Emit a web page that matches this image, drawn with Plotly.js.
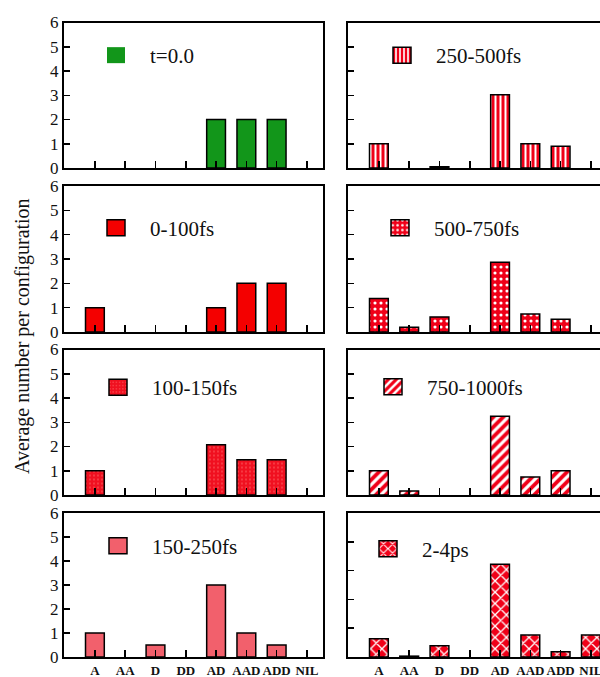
<!DOCTYPE html>
<html><head><meta charset="utf-8">
<script src="https://cdn.plot.ly/plotly-3.0.1.min.js"></script>
<style>html,body{margin:0;padding:0;background:#fff}</style>
</head><body><div id="chart" style="width:600px;height:677px"></div>
<script>
// ---- data ----
const categories = ['A','AA','D','DD','AD','AAD','ADD','NIL'];
const t0        = [0, 0, 0, 0, 2, 2, 2, 0];
const fs0_100   = [1, 0, 0, 0, 1, 2, 2, 0];
const fs100_150 = [1, 0, 0, 0, 2.07, 1.45, 1.45, 0];
const fs150_250 = [1, 0, 0.5, 0, 3, 1, 0.5, 0];
const fs250_500 = [1, 0, 0.05, 0, 3.02, 1.0, 0.9, 0];
const fs500_750 = [1.38, 0.2, 0.62, 0, 2.87, 0.74, 0.52, 0];
const fs750_1000= [1.0, 0.16, 0, 0, 3.25, 0.74, 1.0, 0];
const ps2_4     = [0.63, 0.03, 0.39, 0, 3.22, 0.76, 0.18, 0.76];
const seriesNames = ['t=0.0','250-500fs','0-100fs','500-750fs','100-150fs','750-1000fs','150-250fs','2-4ps'];
const seriesValues = [t0, fs250_500, fs0_100, fs500_750, fs100_150, fs750_1000, fs150_250, ps2_4];
const yMax = [6, 6, 6, 6, 6, 6, 6, 5];
const yTitle = 'Average number per configuration';

// ---- styles ----
const RED = '#f00018';
const styles = [
  {color:'#12961a'},
  {color:RED, pattern:{shape:'|', bgcolor:RED, fgcolor:'#ffffff', size:5, solidity:0.4}},
  {color:'#f40000'},
  {color:RED, pattern:{shape:'.', bgcolor:RED, fgcolor:'#ffffff', size:6, solidity:0.22}},
  {color:'#f01020', pattern:{shape:'.', bgcolor:'#f01020', fgcolor:'#ff7070', size:4, solidity:0.12}},
  {color:RED, pattern:{shape:'/', bgcolor:RED, fgcolor:'#ffffff', size:7, solidity:0.45}},
  {color:'#f2606c'},
  {color:RED, pattern:{shape:'x', bgcolor:RED, fgcolor:'#ffffff', size:8, solidity:0.3}}
];
const H = 677, W = 600;
const rowsPx = [[22.5,168],[186,332],[349.5,495],[513,657]];
const colsPx = [[64,323],[348,600]];
const xRanges = [[-1.02, 7.53], [-1.02, 7.30]];
const legendPx = [[82,55.5],[368,55.5],[82,228],[366,228],[84,387.5],[359,387],[84,546],[354,549]];

const serif = '"Liberation Serif", "Times New Roman", serif';
const data = [];
const layout = {
  width: W, height: H,
  margin: {l:0, r:0, t:0, b:0},
  paper_bgcolor: '#fff', plot_bgcolor: '#fff',
  font: {family: serif, color: '#000'},
  annotations: [{
    text: yTitle, xref:'paper', yref:'paper', x: 22/W, y: 1-336/H,
    textangle: -90, showarrow:false, xanchor:'center', yanchor:'middle',
    font: {family: serif, size: 20, color:'#111'}
  }]
};

for (let i = 0; i < 8; i++) {
  const col = i % 2, row = Math.floor(i / 2);
  const sfx = i === 0 ? '' : String(i + 1);
  const lg = 'legend' + (i === 0 ? '' : String(i + 1));
  const st = styles[i];
  const vals = seriesValues[i];
  const marker = {color: st.color, line: {color: '#000', width: vals.map(v => v > 0 ? 1.5 : 0)}};
  if (st.pattern) marker.pattern = Object.assign({fillmode:'replace'}, st.pattern);
  data.push({
    type: 'bar', x: categories, y: vals, name: seriesNames[i],
    xaxis: 'x' + sfx, yaxis: 'y' + sfx, legend: lg, showlegend: true,
    width: 0.62, marker: marker, hoverinfo: 'skip'
  });
  layout['xaxis' + sfx] = {
    domain: [colsPx[col][0]/W, colsPx[col][1]/W],
    anchor: 'y' + sfx, type: 'category', categoryorder: 'array', categoryarray: categories,
    range: xRanges[col], showline: true, mirror: true, linewidth: 2, linecolor: '#000',
    ticks: 'inside', ticklen: 7, tickwidth: 1.5, tickcolor: '#000',
    showgrid: false, zeroline: false, showticklabels: row === 3,
    tickfont: {family: serif, size: 13, color: '#111', weight: 'bold'}, fixedrange: true
  };
  layout['yaxis' + sfx] = {
    domain: [1 - rowsPx[row][1]/H, 1 - rowsPx[row][0]/H],
    anchor: 'x' + sfx, range: [0, yMax[i]], tick0: 0, dtick: 1,
    showline: true, mirror: col === 0, linewidth: 2, linecolor: '#000',
    ticks: 'inside', ticklen: 6, tickwidth: 1.5, tickcolor: '#000',
    showgrid: false, zeroline: false, showticklabels: col === 0,
    tickfont: {family: serif, size: 17, color: '#111'}, fixedrange: true
  };
  layout[lg] = {
    x: legendPx[i][0]/W, y: 1 - legendPx[i][1]/H, xanchor: 'left', yanchor: 'middle',
    bgcolor: 'rgba(0,0,0,0)', borderwidth: 0, itemwidth: 58,
    font: {family: serif, size: 21, color: '#111'}
  };
}

Plotly.newPlot('chart', data, layout, {staticPlot: true, displayModeBar: false}).then(function(gd){
  gd.querySelectorAll('.legendpoints path').forEach(function(p){
    p.setAttribute('d', 'M9,8H-9V-8H9Z');
    p.style.strokeWidth = '1.5px';
  });
});
</script>
</body></html>
